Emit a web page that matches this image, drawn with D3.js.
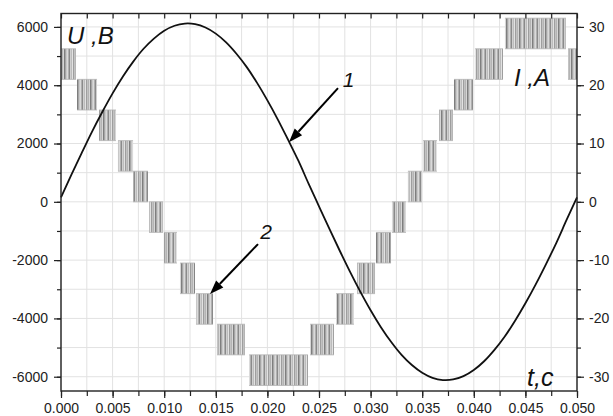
<!DOCTYPE html>
<html>
<head>
<meta charset="utf-8">
<script src="https://d3js.org/d3.v7.min.js"></script>
<style>
  body { margin: 0; background: #fff; }
  text { font-family: "Liberation Sans", Arial, sans-serif; }
</style>
</head>
<body>
<svg id="chart" width="613" height="416"></svg>
<script>
// ---- data ----
// curve 1: voltage U, V (left axis)
var timeU = [0.000,0.001,0.002,0.003,0.004,0.005,0.006,0.007,0.008,0.009,
             0.010,0.011,0.012,0.013,0.014,0.015,0.016,0.017,0.018,0.019,
             0.020,0.021,0.022,0.023,0.024,0.025,0.026,0.027,0.028,0.029,
             0.030,0.031,0.032,0.033,0.034,0.035,0.036,0.037,0.038,0.039,
             0.040,0.041,0.042,0.043,0.044,0.045,0.046,0.047,0.048,0.049,0.050];
var voltU = [150,920,1670,2400,3080,3720,4300,4810,5250,5600,
             5870,6040,6115,6095,5980,5770,5470,5080,4620,4080,
             3480,2830,2130,1410,615,-155,-920,-1670,-2395,-3080,
             -3720,-4300,-4810,-5250,-5600,-5865,-6040,-6115,-6095,-5980,
             -5770,-5470,-5080,-4620,-4080,-3480,-2830,-2135,-1405,-615,155];

// curve 2: current I, A (right axis) - PWM bands switching between two levels
var bandStart = [0.0000,0.00155,0.00368,0.00552,0.00698,0.00853,0.00998,0.01153,0.01308,0.01512,
                 0.01822,0.02413,0.02665,0.02868,0.03052,0.03207,0.03362,0.03508,0.03663,0.03808,
                 0.04012,0.04302,0.04913];
var bandEnd   = [0.00145,0.00349,0.00533,0.00698,0.00843,0.00988,0.01124,0.01298,0.01473,0.01783,
                 0.02393,0.02645,0.02839,0.03043,0.03198,0.03343,0.03498,0.03643,0.03798,0.03992,
                 0.04283,0.04893,0.05000];
var bandLow   = [21,15.75,10.5,5.25,0,-5.25,-10.5,-15.75,-21,-26.25,
                 -31.5,-26.25,-21,-15.75,-10.5,-5.25,0,5.25,10.5,15.75,
                 21,26.25,21];
var bandHigh  = [26.25,21,15.75,10.5,5.25,0,-5.25,-10.5,-15.75,-21,
                 -26.25,-21,-15.75,-10.5,-5.25,0,5.25,10.5,15.75,21,
                 26.25,31.5,26.25];

var xTicks = [0,0.005,0.01,0.015,0.02,0.025,0.03,0.035,0.04,0.045,0.05];
var leftTicks = [-6000,-4000,-2000,0,2000,4000,6000];
var rightTicks = [-30,-20,-10,0,10,20,30];

// ---- layout ----
var svg = d3.select('#chart');
var x = d3.scaleLinear().domain([0, 0.05]).range([61, 577]);
var yL = d3.scaleLinear().domain([-6490, 6460]).range([391, 13.5]);
var yR = d3.scaleLinear().domain([-32.45, 32.3]).range([391, 13.5]);

var xMinor = d3.range(0, 0.05001, 0.0025);
var yMinor = d3.range(-6000, 6001, 1000);
var rMinor = d3.range(-30, 31, 5);

// grid
var grid = svg.append('g').attr('stroke', '#e2e2e2').attr('stroke-width', 1);
grid.selectAll('line.v').data(xMinor).enter().append('line')
  .attr('x1', function(d) { return x(d); }).attr('x2', function(d) { return x(d); })
  .attr('y1', 13.5).attr('y2', 391);
grid.selectAll('line.h').data(yMinor).enter().append('line')
  .attr('x1', 61).attr('x2', 577)
  .attr('y1', function(d) { return yL(d); }).attr('y2', function(d) { return yL(d); });

// pattern for PWM bands
var defs = svg.append('defs');
var pat = defs.append('pattern').attr('id', 'pwm')
  .attr('patternUnits', 'userSpaceOnUse').attr('width', 13).attr('height', 10);
var stripe = ['#a6a6a6','#c8c8c8','#dadada','#b0b0b0','#8a8a8a','#cfcfcf','#bcbcbc',
              '#e2e2e2','#9e9e9e','#c2c2c2','#b4b4b4','#d6d6d6','#7e7e7e'];
stripe.forEach(function(c, i) {
  pat.append('rect').attr('x', i).attr('y', 0).attr('width', 1).attr('height', 10).attr('fill', c);
});

var bands = bandStart.map(function(s, i) {
  return { s: s, e: bandEnd[i], lo: bandLow[i], hi: bandHigh[i] };
});
var bg = svg.append('g');
bg.selectAll('rect').data(bands).enter().append('rect')
  .attr('x', function(d) { return x(d.s); })
  .attr('width', function(d) { return x(d.e) - x(d.s); })
  .attr('y', function(d) { return yR(d.hi); })
  .attr('height', function(d) { return yR(d.lo) - yR(d.hi); })
  .attr('fill', 'url(#pwm)');
bg.selectAll('path').data(bands).enter().append('path')
  .attr('d', function(d) {
    return 'M' + x(d.s) + ',' + yR(d.hi) + 'H' + x(d.e) + 'M' + x(d.s) + ',' + yR(d.lo) + 'H' + x(d.e);
  })
  .attr('stroke', '#b4b4b4').attr('stroke-width', 0.8).attr('fill', 'none');

// curve 1
var line = d3.line()
  .x(function(d, i) { return x(timeU[i]); })
  .y(function(d) { return yL(d); })
  .curve(d3.curveCatmullRom);
svg.append('path').datum(voltU)
  .attr('d', line)
  .attr('fill', 'none').attr('stroke', '#111').attr('stroke-width', 1.8);

// axes
function styleAxis(g) {
  g.select('.domain').remove();
  g.selectAll('line').attr('stroke', '#222').attr('stroke-width', 1.2);
  g.selectAll('text').attr('fill', '#222').style('font-size', '14px')
    .style('font-family', '"Liberation Sans", Arial, sans-serif');
}
var plain = function(d) { return String(d); };
svg.append('g').attr('transform', 'translate(61,0)')
  .call(d3.axisLeft(yL).tickValues(yMinor).tickSize(4).tickFormat('')).call(styleAxis);
svg.append('g').attr('transform', 'translate(61,0)')
  .call(d3.axisLeft(yL).tickValues(leftTicks).tickSize(7).tickPadding(6).tickFormat(plain)).call(styleAxis);
svg.append('g').attr('transform', 'translate(577,0)')
  .call(d3.axisRight(yR).tickValues(rMinor).tickSize(4).tickFormat('')).call(styleAxis);
svg.append('g').attr('transform', 'translate(577,0)')
  .call(d3.axisRight(yR).tickValues(rightTicks).tickSize(7).tickPadding(5).tickFormat(plain)).call(styleAxis);
svg.append('g').attr('transform', 'translate(0,391)')
  .call(d3.axisBottom(x).tickValues(xMinor).tickSize(5).tickFormat('')).call(styleAxis);
svg.append('g').attr('transform', 'translate(0,391)')
  .call(d3.axisBottom(x).tickValues(xTicks).tickSize(7).tickPadding(5).tickFormat(d3.format('.3f'))).call(styleAxis);
svg.append('g').attr('transform', 'translate(0,13.5)')
  .call(d3.axisTop(x).tickValues(xMinor).tickSize(-5).tickFormat('')).call(styleAxis);

// frame
svg.append('rect').attr('x', 61).attr('y', 13.5).attr('width', 516).attr('height', 377.5)
  .attr('fill', 'none').attr('stroke', '#222').attr('stroke-width', 1.4);

// labels
function label(txt, px, py, fs) {
  svg.append('text').attr('x', px).attr('y', py)
    .attr('font-style', 'italic').attr('font-size', fs).attr('fill', '#111')
    .attr('xml:space', 'preserve').text(txt);
}
label('U ,B', 67, 44, 24);
label('I ,A', 514, 86, 24);
label('t,c', 527, 386, 25);
label('1', x(0.0273), yL(3950), 21);
label('2', x(0.0193), yL(-1280), 21);

// arrows
function arrow(t0, u0, t1, u1) {
  var x0 = x(t0), y0 = yL(u0), x1 = x(t1), y1 = yL(u1);
  var a = Math.atan2(y1 - y0, x1 - x0), L = 14, w = 5;
  var bx = x1 - L * Math.cos(a), by = y1 - L * Math.sin(a);
  svg.append('line').attr('x1', x0).attr('y1', y0).attr('x2', bx).attr('y2', by)
    .attr('stroke', '#000').attr('stroke-width', 2);
  svg.append('path').attr('d', 'M' + x1 + ',' + y1 +
      'L' + (bx + w * Math.sin(a)) + ',' + (by - w * Math.cos(a)) +
      'L' + (bx - w * Math.sin(a)) + ',' + (by + w * Math.cos(a)) + 'Z')
    .attr('fill', '#000');
}
arrow(0.02684, 3898, 0.02209, 2047);
arrow(0.01909, -1450, 0.01444, -3164);
</script>
</body>
</html>
